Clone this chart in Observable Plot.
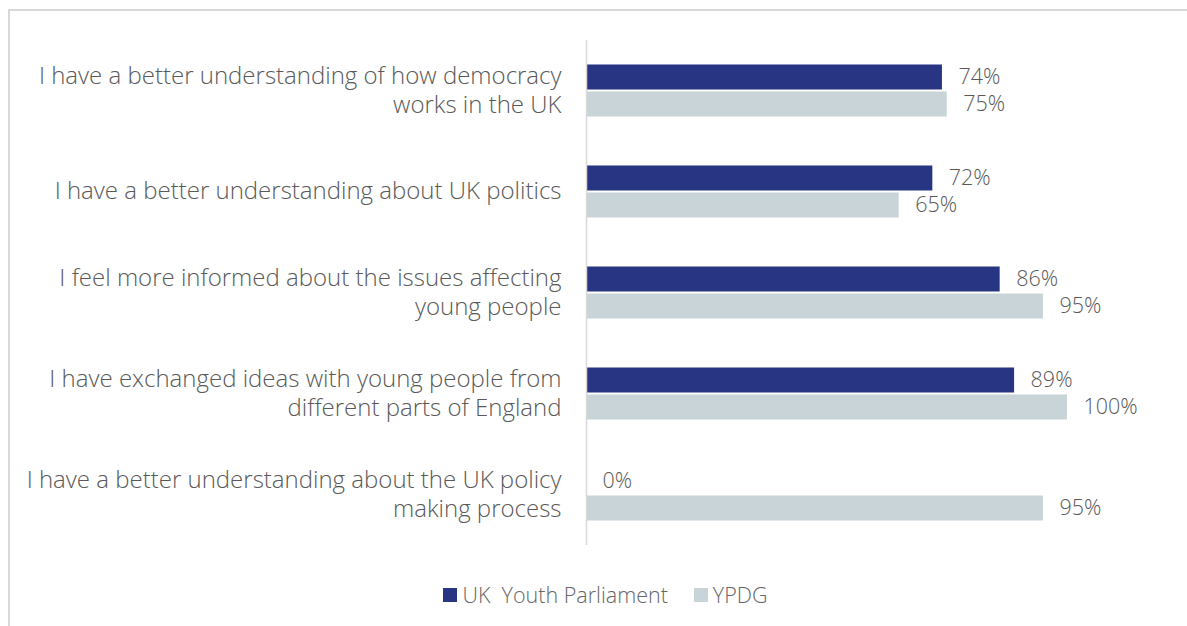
<!DOCTYPE html>
<html>
<head>
<meta charset="utf-8">
<script src="https://cdn.jsdelivr.net/npm/d3@7"></script>
<script src="https://cdn.jsdelivr.net/npm/@observablehq/plot@0.6"></script>
<style>
  html, body { margin: 0; padding: 0; background: #fff; }
  body { width: 1187px; height: 626px; overflow: hidden; position: relative; font-family: "Open Sans", sans-serif; font-weight: 300; }
  #frame { position: absolute; left: 8px; top: 9px; width: 1400px; height: 800px; border-top: 2px solid #d9d9d9; border-left: 2px solid #d9d9d9; box-sizing: border-box; }
  #chart { position: absolute; left: 0; top: 0; }
  #legend { position: absolute; left: 0; width: 1187px; top: 580px; display: flex; justify-content: center; font-size: 21.5px; color: #666; padding-left: 24px; box-sizing: border-box; }
  .item { display: flex; align-items: center; margin: 0 13px; }
  .sw { width: 14px; height: 14px; margin-right: 5px; display: inline-block; }
</style>
</head>
<body>
<div id="frame"></div>
<div id="chart"></div>
<div id="legend"></div>
<script>
const categories = [
  "I have a better understanding of how democracy\nworks in the UK",
  "I have a better understanding about UK politics",
  "I feel more informed about the issues affecting\nyoung people",
  "I have exchanged ideas with young people from\ndifferent parts of England",
  "I have a better understanding about the UK policy\nmaking process"
];
const seriesNames = ["UK  Youth Parliament", "YPDG"];
const ukypValues = [74, 72, 86, 89, 0];
const ypdgValues = [75, 65, 95, 100, 95];
const colors = ["#283583", "#c9d4d9"];

const rows = [];
categories.forEach((c, i) => {
  rows.push({category: c, series: seriesNames[0], value: ukypValues[i]});
  rows.push({category: c, series: seriesNames[1], value: ypdgValues[i]});
});

const plot = Plot.plot({
  width: 1187,
  height: 560,
  marginLeft: 586,
  marginRight: 120,
  marginTop: 40,
  marginBottom: 15,
  style: {fontFamily: "'Open Sans', sans-serif", fontWeight: 300, color: "#595959"},
  x: {domain: [0, 100], axis: null},
  fy: {domain: categories, padding: 0, round: false},
  y: {domain: seriesNames, paddingInner: 0.074, paddingOuter: 0.907, round: false, axis: null},
  color: {domain: seriesNames, range: colors},
  marks: [
    Plot.barX(rows, {fy: "category", y: "series", x: "value", fill: "series"}),
    Plot.ruleX([0], {stroke: "#d9d9d9", strokeWidth: 1.5}),
    Plot.text(rows, {fy: "category", y: "series", x: "value", text: d => d.value + "%", textAnchor: "start", dx: 16, fontSize: 21.5, fill: "#595959"}),
    Plot.axisFy({anchor: "left", tickSize: 0, tickPadding: 25, fontSize: 24, lineHeight: 1.2, dy: -2, fill: "#595959", label: null})
  ]
});
document.getElementById("chart").appendChild(plot);

const legend = document.getElementById("legend");
seriesNames.forEach((s, i) => {
  const it = document.createElement("div");
  it.className = "item";
  const sw = document.createElement("span");
  sw.className = "sw";
  sw.style.background = colors[i];
  const tx = document.createElement("span");
  tx.textContent = s;
  tx.style.whiteSpace = "pre";
  it.appendChild(sw);
  it.appendChild(tx);
  legend.appendChild(it);
});
</script>
</body>
</html>
